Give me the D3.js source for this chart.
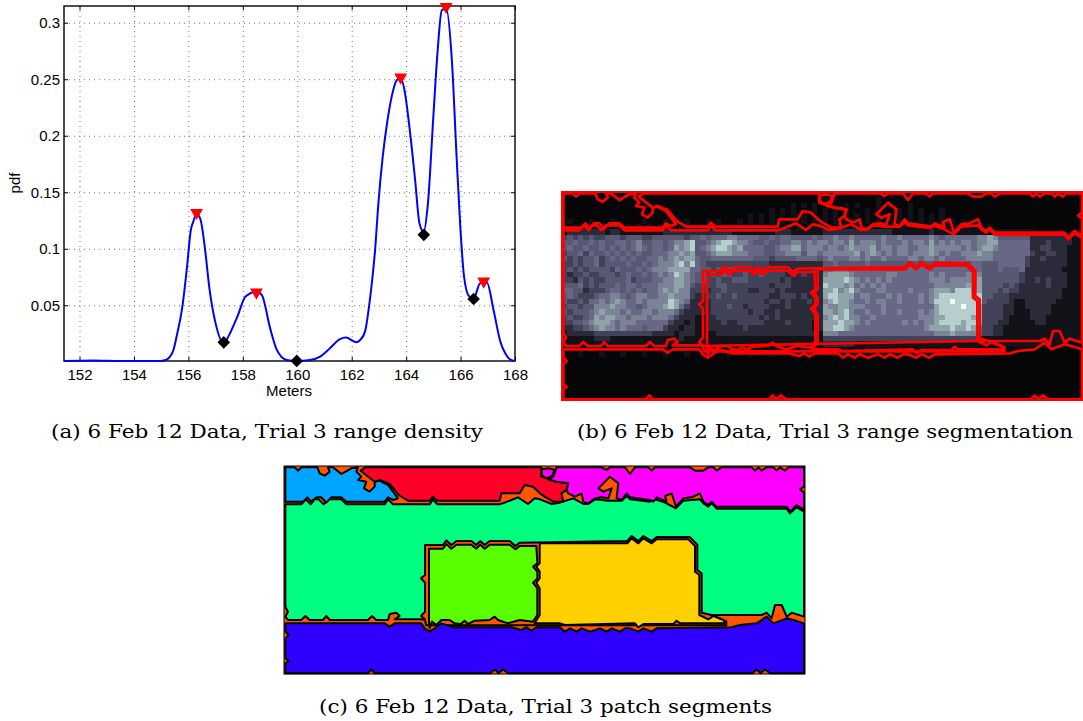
<!DOCTYPE html>
<html><head><meta charset="utf-8">
<style>html,body{margin:0;padding:0;background:#fff}svg{display:block}</style>
<script src="https://cdn.jsdelivr.net/npm/d3@7/dist/d3.min.js"></script>
</head><body><svg id="c" width="1083" height="721"></svg>
<script>
const meters=[151.43,152.5,153.5,155,155.17,155.43,155.58,155.78,155.95,156.09,156.18,156.3,156.45,156.6,156.78,157,157.3,157.5,157.8,158.1,158.5,158.7,159,159.25,159.61,159.98,160.47,160.84,161.2,161.57,161.79,162.16,162.31,162.49,162.62,162.74,162.86,162.98,163.14,163.29,163.47,163.66,163.8,163.96,164.12,164.33,164.49,164.64,164.8,165,165.16,165.31,165.47,165.68,165.86,165.99,166.13,166.32,166.48,166.72,166.97,167.21,167.46,167.64,167.83,168];
const pdf=[.0007,.0012,.0007,.0008,.0016,.009,.0238,.049,.084,.1166,.124,.131,.1255,.102,.0636,.034,.0164,.0238,.04,.0577,.062,.059,.03,.0105,.0016,.0008,.0016,.0046,.012,.02,.0214,.0173,.0193,.0267,.0459,.0695,.099,.14,.1815,.2095,.2346,.2493,.2508,.2375,.208,.161,.1225,.115,.14,.217,.276,.311,.3127,.267,.1786,.1196,.075,.0577,.056,.0695,.07,.046,.018,.0075,.002,.0008];
const peakX=[156.3,158.5,163.8,165.47,166.85];
const peakY=[.132,.0615,.2518,.3142,.0712];
const valleyX=[157.3,159.98,164.65,166.48];
const valleyY=[.0172,.0008,.1123,.0556];
const xTicks=[152,154,156,158,160,162,164,166,168];
const yTicks=[.05,.1,.15,.2,.25,.3];
const yTickLabels=["0.05","0.1","0.15","0.2","0.25","0.3"];
const captionA="(a) 6 Feb 12 Data, Trial 3 range density";
const captionB="(b) 6 Feb 12 Data, Trial 3 range segmentation";
const captionC="(c) 6 Feb 12 Data, Trial 3 patch segments";

const darkTopRows=[
"00000000000000000000000000000000000000000000000000000000000000000000000000000000000000000000000000",
"00000000000000000000000000000000000000000000000001000000000100000000000000000000000000000000000000",
"00000000000000000000000000000000000000000001010100000101000101000100000000000000000000000000000000",
"00000000000000000000000000000000000000010101000101010100010100010101000100000000000000000000000000",
"00000000000000000000000000000000000101010101010101010101010101010101010100000000000000000000000000",
"01000100010000010001000100010100010101010101010101010101010101010101010101010000000000000000000000",
"10101010101010101010101010101010111010101010101110101010101010101010101010101010100000000000000000"];
const bandA=["1222222212211111111222222","3434343344434443344444434","4454454544554564455456678","4544544545454565455457678","3445354454545454455566767","4343445345454544556567677","3343445344445445456667868","3434344443544454566677775","3233433444345445456568765","3324343344445344455667765","4445343444545545556667764","5544233345545454556767663","4543334556654566556676663","4334355656765565666687652","3443446667665545666787532","4344456766656556656665322","3433457677665666566653222","3344567776566655555532212","2233456766565554555322122","1222223333333333322221222","1111112221111111111111211","1111111111111111111111111"];
const bandB=["222222211111111222111111","454555665555445455444454","445678876654454455665656","456788767555544566775666","445677766655544556664665","544555555554443444455554","543333333333332222222222","544343443333333332222231","443434433433433332323222","443343344433333323222222","333344333333332333222222","332334333322333232222222","223343343333332233323222","222333333333323323222322","222333433233332223222222","222333333323322322222222","112233333333232322222222","112223223333322223222212","112222222322222222222212","111122222222222222222221","111111111111111111111111","111111111111111111111111"];
const bandC=["2222222222222111111121111","5565565555565565555565455","6566575666565556566575656","5665676667566566556676666","6666667567656566566676565","5655566565565555665665655","4454444454444444444444444","5566655555555555555555555","6777765555556655555565655","7777876565656555555566656","8777675656565555555556666","7786786555665555655567776","7887775665556565556567888","6787765565665565556568889","7667766655565555555557888","7767865565565565556567888","6787866556555555556667788","7778776565555556565667888","7788765555555555555677778","6665555555555555555556667","3333333333333333333333333","2222221111111111111111111"];
const bandD=["111111111111111000000000","555566764444442222222211","566566775555552223222211","656567765555552233222111","566676655555553223322111","556666655555532232222111","554554445555532222222111","555554445444522222221111","556664444444322222222111","666674444444322323222111","667774444343222223222111","888774443433222222221111","888884433322222222221111","888884333321122222211111","898873333221122222111111","888873333221112222111111","888773333211112221111111","878873332211111221111111","778753322111111111111111","666643322111111111111111","333321111111111111111111","111111111111111111110000"];
const darkBottomRows=[
"01010101010101010101010101010101010101010101010101010101010101010101010101010100000000000000000000",
"00010001000100010001000100010001000100010001000100010001000100010001000100010000000000000000000000",
"00000000000000000000000000000000000000000000000000000000000000000000000000000000000000000000000000",
"00000000000000000000000000000000000000000000000000000000000000000000000000000000000000000000000000",
"00000000000000000000000000000000000000000000000000000000000000000000000000000000000000000000000000",
"00000000000000000000000000000000000000000000000000000000000000000000000000000000000000000000000000",
"00000000000000000000000000000000000000000000000000000000000000000000000000000000000000000000000000",
"00000000000000000000000000000000000000000000000000000000000000000000000000000000000000000000000000",
"00000000000000000000000000000000000000000000000000000000000000000000000000000000000000000000000000",
"00000000000000000000000000000000000000000000000000000000000000000000000000000000000000000000000000"];

const segGreen=[[22,133],[70,133],[84,118],[98,133],[110,118],[122,118],[137,133],[150,118],[190,118],[205,133],[320,133],[330,118],[345,133],[455,133],[465,118],[478,133],[665,133],[680,128],[720,112],[750,132],[770,115],[786,118],[821,132],[846,128],[886,115],[916,132],[931,132],[951,118],[991,122],[1031,122],[1046,108],[1056,118],[1116,125],[1131,118],[1161,128],[1194,145],[1216,122],[1266,118],[1276,130],[1291,140],[1301,130],[1316,146],[1526,146],[1536,160],[1556,142],[1578,155],[1578,470],[1541,458],[1526,470],[1511,435],[1491,435],[1481,475],[1466,458],[1451,465],[1266,465],[440,480],[430,478],[350,478],[365,468],[355,458],[335,462],[330,480],[295,480],[282,468],[270,480],[155,480],[145,468],[135,480],[95,480],[82,468],[70,480],[30,480],[22,470],[30,455],[22,440]];
const segHole=[[441,255],[495,255],[505,241],[520,255],[535,243],[580,243],[595,255],[607,243],[620,255],[635,243],[695,243],[712,258],[725,248],[1048,243],[1061,228],[1081,243],[1096,228],[1121,243],[1136,231],[1235,231],[1258,254],[1258,330],[1271,340],[1271,458],[1300,465],[1345,484],[1345,496],[444,496],[441,478],[429,468],[441,455],[441,368],[429,355],[441,345]];
const segCyan=[[22,22],[50,22],[60,32],[70,22],[118,22],[125,40],[140,47],[155,35],[150,22],[165,22],[190,42],[220,25],[240,22],[235,35],[250,50],[240,60],[265,65],[258,85],[275,95],[290,80],[290,65],[305,62],[330,75],[360,115],[345,120],[330,112],[320,125],[205,125],[190,112],[160,112],[145,128],[130,112],[115,112],[100,125],[88,112],[75,125],[22,125]];
const segRed=[[262,22],[790,22],[790,50],[811,55],[826,50],[811,58],[836,65],[871,70],[866,90],[850,100],[856,125],[826,125],[800,110],[786,100],[765,80],[740,75],[725,100],[670,100],[665,122],[478,122],[465,110],[455,122],[390,122],[362,105],[335,72],[305,60],[290,65],[248,32]];
const segMagenta=[[836,22],[971,22],[986,30],[996,22],[1041,22],[1056,42],[1071,22],[1111,22],[1121,32],[1131,22],[1236,22],[1251,32],[1276,32],[1291,22],[1306,22],[1316,32],[1331,22],[1421,22],[1431,32],[1441,22],[1451,32],[1466,22],[1486,22],[1496,32],[1506,22],[1521,32],[1531,22],[1578,22],[1578,80],[1566,88],[1578,97],[1578,150],[1556,135],[1536,155],[1526,140],[1316,140],[1301,125],[1291,135],[1276,125],[1266,100],[1241,112],[1216,115],[1194,140],[1181,100],[1161,108],[1166,125],[1136,112],[1126,125],[1116,120],[1056,112],[1046,100],[1031,120],[1016,115],[1021,70],[996,50],[961,85],[976,95],[1001,85],[991,115],[971,112],[951,115],[931,130],[916,125],[911,100],[891,110],[871,100],[866,90],[871,70],[836,65],[811,58],[826,50]];
const segSpeck=[[792,28],[812,25],[830,30],[822,48],[805,55],[792,46]];
const segIndigo=[[22,490],[320,490],[335,500],[350,490],[430,490],[440,505],[455,515],[470,505],[490,490],[530,502],[700,502],[730,510],[745,502],[760,512],[775,502],[846,502],[861,515],[876,505],[896,515],[911,505],[936,515],[966,505],[986,515],[1001,505],[1026,515],[1041,505],[1056,505],[1081,515],[1096,505],[1121,515],[1136,505],[1361,502],[1386,495],[1436,490],[1466,470],[1486,490],[1526,475],[1546,480],[1578,490],[1578,640],[1476,640],[1461,628],[1448,640],[1436,628],[1424,640],[690,640],[675,628],[662,640],[650,628],[638,640],[290,640],[280,628],[270,640],[22,640],[22,610],[32,603],[22,595],[22,535],[32,525],[22,515]];
const segLime=[[453,266],[495,266],[505,252],[520,266],[535,254],[580,254],[595,266],[607,254],[620,266],[635,254],[695,254],[712,268],[725,258],[775,258],[778,310],[765,320],[778,335],[778,355],[765,368],[778,385],[778,465],[765,485],[725,480],[690,490],[660,480],[650,470],[635,480],[590,482],[570,492],[560,482],[548,492],[530,490],[515,480],[490,480],[475,495],[462,485],[455,505],[453,480],[453,345]];
const segYellow=[[786,250],[1048,250],[1061,235],[1081,250],[1096,235],[1121,250],[1136,238],[1231,238],[1251,258],[1251,335],[1264,345],[1264,465],[1291,478],[1306,468],[1336,480],[1341,490],[1206,490],[1196,482],[1186,492],[1096,492],[1081,502],[1071,490],[861,495],[846,490],[770,490],[785,465],[785,385],[775,368],[785,355],[785,335],[775,320],[785,310],[785,258]];
const segments=[segGreen,segHole,segCyan,segRed,segMagenta,segSpeck,segIndigo,segLime,segYellow];
const segmentColors=["#00ff80","#ff5500","#00a5ff","#ff0028","#ff00ff","#ff00ff","#3000ff","#59ff00","#ffd000"];

const svg=d3.select("#c");
const sans="'Liberation Sans',Arial,sans-serif";
// Panel a
const x=d3.scaleLinear().domain([151.43,168]).range([64,515]);
const y=d3.scaleLinear().domain([.0007,.3148]).range([361,6]);
const a=svg.append("g");
a.append("g").selectAll("line").data(xTicks.slice(0,-1)).join("line")
 .attr("x1",d=>x(d)+.5).attr("x2",d=>x(d)+.5).attr("y1",6).attr("y2",361);
a.append("g").selectAll("line").data(yTicks).join("line")
 .attr("x1",64).attr("x2",515).attr("y1",d=>y(d)+.5).attr("y2",d=>y(d)+.5);
a.selectAll("g line").attr("stroke","#777").attr("stroke-width",1).attr("stroke-dasharray","1 4");
const axB=a.append("g").attr("transform","translate(0,361)").call(d3.axisBottom(x).tickValues(xTicks).tickSize(-4).tickPadding(8).tickFormat(d3.format("d")));
const axL=a.append("g").attr("transform","translate(64,0)").call(d3.axisLeft(y).tickValues(yTicks).tickSize(-4).tickPadding(4).tickFormat((d,i)=>yTickLabels[i]));
const axT=a.append("g").attr("transform","translate(0,6)").call(d3.axisTop(x).tickValues(xTicks).tickSize(-4).tickFormat(""));
const axR=a.append("g").attr("transform","translate(515,0)").call(d3.axisRight(y).tickValues(yTicks).tickSize(-4).tickFormat(""));
[axB,axL,axT,axR].forEach(g=>{g.select(".domain").remove();g.selectAll("line").attr("stroke","#000").attr("stroke-dasharray",null);g.selectAll("text").attr("font-family",sans).attr("font-size",15).attr("fill","#000");});
a.append("rect").attr("x",64).attr("y",6).attr("width",451).attr("height",355).attr("fill","none").attr("stroke","#000").attr("stroke-width",1.4);
const lineGen=d3.line().x(d=>x(d[0])).y(d=>y(d[1])).curve(d3.curveMonotoneX);
a.append("path").attr("d",lineGen(d3.zip(meters,pdf))).attr("fill","none").attr("stroke","#0000ff").attr("stroke-width",2);
a.selectAll("path.peak").data(d3.zip(peakX,peakY)).join("path").attr("class","peak")
 .attr("d",d3.symbol(d3.symbolTriangle,72)).attr("fill","#ff0000")
 .attr("transform",d=>`translate(${x(d[0])},${y(d[1])}) rotate(180)`);
a.selectAll("path.valley").data(d3.zip(valleyX,valleyY)).join("path").attr("class","valley")
 .attr("d",d3.symbol(d3.symbolSquare,80)).attr("fill","#000")
 .attr("transform",d=>`translate(${x(d[0])},${y(d[1])}) rotate(45)`);
a.append("text").attr("x",289).attr("y",396).attr("text-anchor","middle").attr("font-family",sans).attr("font-size",15).text("Meters");
a.append("text").attr("transform","translate(20,183) rotate(-90)").attr("text-anchor","middle").attr("font-family",sans).attr("font-size",15).text("pdf");

// Panel b
const bx=d3.scaleLinear().domain([18,1581]).range([562,1083]);
const by=d3.scaleLinear().domain([18,642]).range([192,400]);
const cx=d3.scaleLinear().domain([18,1581]).range([284,805]);
const cy=d3.scaleLinear().domain([18,642]).range([466,674]);
const outline=(sx,sy)=>d3.line().x(p=>sx(p[0])).y(p=>sy(p[1])).curve(d3.curveLinearClosed);
const nCols=98;
const fit=(s,n)=>s.padEnd(n,"0").slice(0,n);
const bandRows=bandA.map((r,i)=>fit(r,25)+fit(bandB[i],24)+fit(bandC[i],25)+fit(bandD[i],24));
const intensityRows=[...darkTopRows,...bandRows,...darkBottomRows].map(r=>fit(r,nCols));
const nRows=intensityRows.length;
const col=d3.scaleBand().domain(d3.range(nCols)).range([562,1083]);
const row=d3.scaleBand().domain(d3.range(nRows)).range([192,400]);
const shade=d3.scaleLinear().domain([0,1,2,3,4,5,6,7,8,9]).range(["#060609","#121219","#2a2a38","#424258","#585872","#686886","#7a8496","#8ea4a9","#b6cece","#f4fcfc"]);
const b=svg.append("g");
const cells=intensityRows.flatMap((r,i)=>Array.from(r,(c,j)=>({i,j,v:+c})));
b.selectAll("rect").data(cells).join("rect").attr("shape-rendering","crispEdges")
 .attr("x",d=>col(d.j)).attr("y",d=>row(d.i)).attr("width",col.bandwidth()+1).attr("height",row.bandwidth()+1)
 .attr("fill",d=>shade(d.v));
const lb=outline(bx,by);
b.selectAll("path").data(segments).join("path").attr("d",d=>lb(d)).attr("fill","none").attr("stroke","#ff0000").attr("stroke-width",2.7).attr("stroke-linejoin","round");
b.append("rect").attr("x",562).attr("y",192).attr("width",521).attr("height",208).attr("fill","none").attr("stroke","#ff0000").attr("stroke-width",2);

// Panel c
const c=svg.append("g");
c.append("rect").attr("x",284).attr("y",466).attr("width",521).attr("height",208).attr("fill","#ff5500");
const lc=outline(cx,cy);
c.selectAll("path").data(segments).join("path").attr("d",d=>lc(d)).attr("fill",(d,i)=>segmentColors[i]).attr("stroke","#000").attr("stroke-width",2).attr("stroke-linejoin","round");
c.append("rect").attr("x",284).attr("y",466).attr("width",521).attr("height",208).attr("fill","none").attr("stroke","#000").attr("stroke-width",1);

// Captions
const serif="'DejaVu Serif',serif";
[[captionA,51,438,432],[captionB,577,438,496],[captionC,319,713,453]].forEach(t=>{
 svg.append("text").attr("x",t[1]).attr("y",t[2]).attr("textLength",t[3]).attr("lengthAdjust","spacingAndGlyphs")
  .attr("font-family",serif).attr("font-size",18).attr("fill","#000").text(t[0]);
});
</script></body></html>
